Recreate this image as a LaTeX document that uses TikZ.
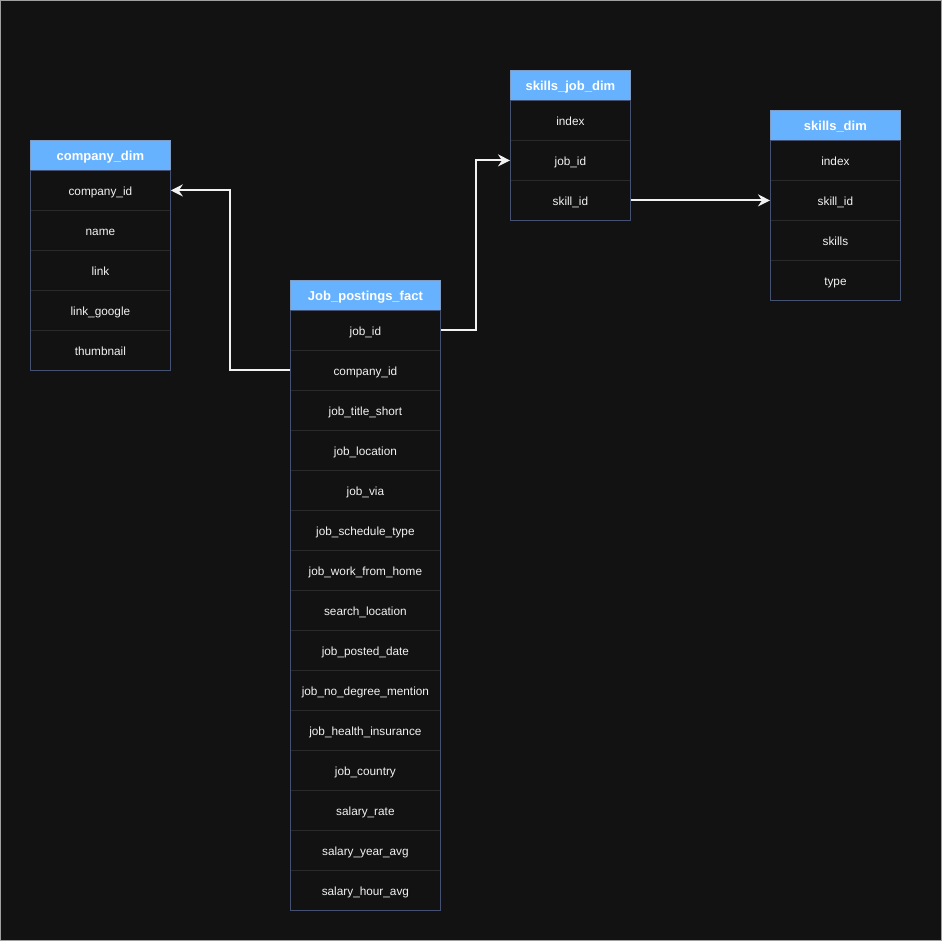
\documentclass[tikz,border=0pt]{standalone}
\usepackage{fontspec}
\setmainfont{Liberation Sans}
\usetikzlibrary{arrows.meta,calc}

\definecolor{canvas}{HTML}{121212}
\definecolor{edgeframe}{HTML}{A0A0A0}
\definecolor{headfill}{HTML}{66B2FF}
\definecolor{headline}{HTML}{7F9CC4}
\definecolor{tableline}{HTML}{465070}
\definecolor{rowline}{HTML}{2A2A2A}
\definecolor{inkwhite}{HTML}{F2F2F2}

\tikzset{
  tablehead/.style={rectangle, draw=headline, fill=headfill, line width=0.8pt,
    inner sep=0pt, text=white, text height=11.5pt, text depth=1pt,
    font=\fontsize{13}{15}\selectfont\bfseries},
  tablerow/.style={rectangle, draw=rowline, fill=canvas, line width=0.8pt,
    inner sep=0pt, text=inkwhite, text height=11pt, text depth=1pt,
    font=\fontsize{11.8}{14}\selectfont},
  tableframe/.style={draw=tableline, line width=1pt},
  link/.style={draw=inkwhite, line width=2pt,
    -{Stealth[length=12pt,width=12pt,inset=4pt]}},
}

% \erTable{name}{left x}{top y}{width}{title}{rows}
\newcommand{\erTable}[6]{%
  \node[tablehead, minimum width=#4pt, minimum height=30pt, anchor=north west]
    (#1h) at (#2,#3) {#5};
  \foreach \rowtext [count=\i] in {#6} {
    \node[tablerow, minimum width=#4pt, minimum height=40pt, anchor=north west]
      (#1\i) at ($(#2,#3)+(0,30+40*\i-40)$) {\rowtext};
    \xdef\lastrow{\i}
  }
  \draw[tableframe] (#1h.south west) rectangle (#1\lastrow.south east);
}

\begin{document}
\begin{tikzpicture}[x=1pt, y=-1pt]
  \useasboundingbox (0,0) rectangle (942,941);
  \fill[canvas] (0,0) rectangle (942,941);
  \draw[edgeframe, line width=1pt] (0.5,0.5) rectangle (941.5,940.5);

  % dimension and fact tables
  \erTable{cd}{30}{140}{140}{company\_dim}%
    {company\_id, name, link, link\_google, thumbnail}
  \erTable{jp}{290}{280}{150}{Job\_postings\_fact}%
    {job\_id, company\_id, job\_title\_short, job\_location, job\_via,
     job\_schedule\_type, job\_work\_from\_home, search\_location,
     job\_posted\_date, job\_no\_degree\_mention, job\_health\_insurance,
     job\_country, salary\_rate, salary\_year\_avg, salary\_hour\_avg}
  \erTable{sj}{510}{70}{120}{skills\_job\_dim}%
    {index, job\_id, skill\_id}
  \erTable{sd}{770}{110}{130}{skills\_dim}%
    {index, skill\_id, skills, type}

  % key relations
  \draw[link] (jp2.west) -- ++(-60,0) |- (cd1.east);
  \draw[link] (jp1.east) -- ++(35,0) |- (sj2.west);
  \draw[link] (sj3.east) -- (sd2.west);
\end{tikzpicture}
\end{document}
